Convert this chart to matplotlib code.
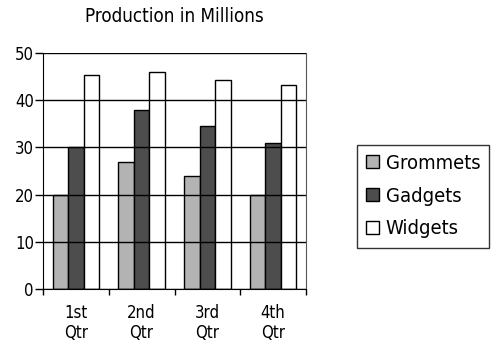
import matplotlib
matplotlib.use('Agg')
import matplotlib.pyplot as plt
import numpy as np
from matplotlib.patches import Patch

# narrow face if one is around, otherwise condensed DejaVu
plt.rcParams['font.family'] = ['Liberation Sans Narrow', 'DejaVu Sans']
plt.rcParams['font.stretch'] = 'condensed'

quarters = ['1st\nQtr', '2nd\nQtr', '3rd\nQtr', '4th\nQtr']
grommets = [20, 27, 24, 20]
gadgets = [30, 38, 34.5, 31]
widgets = [45.3, 46, 44.2, 43.2]
series = ['Grommets', 'Gadgets', 'Widgets']
colors = ['#b3b3b3', '#4d4d4d', '#ffffff']

fig = plt.figure(figsize=(4.94, 3.41), dpi=100)
ax = fig.add_axes([43/494, 1 - 289/341, 263/494, 236/341])

x = np.arange(len(quarters))
w = 0.236
for i, (vals, c) in enumerate(zip([grommets, gadgets, widgets], colors)):
    ax.bar(x + (i - 1) * w, vals, w, color=c, edgecolor='black', linewidth=1.0, zorder=1)

ax.set_xlim(-0.5, 3.5)
ax.set_ylim(0, 50)
ax.set_yticks(range(0, 51, 10))
ax.yaxis.grid(True, color='black', linewidth=1.0, zorder=3)
ax.set_axisbelow(False)

ax.set_xticks(x)
ax.set_xticklabels(quarters, fontsize=12, linespacing=1.1)
ax.set_xticks(np.arange(-0.5, 4, 1), minor=True)
ax.tick_params(axis='x', which='major', length=0, pad=11)
ax.tick_params(axis='x', which='minor', length=4, width=1, direction='out')
ax.tick_params(axis='y', length=6, width=1, labelsize=12, pad=0.5)

ax.spines['top'].set_visible(False)
ax.spines['right'].set_color('#555555')

fig.text(174.5/494, 1 - 16/341, 'Production in Millions', fontsize=13.5,
         ha='center', va='center')

handles = [Patch(facecolor=c, edgecolor='black', linewidth=1.0) for c in colors]
leg = fig.legend(handles, series, loc='upper left', bbox_to_anchor=(357/494, 1 - 145/341),
                 fontsize=14.5, frameon=True, fancybox=False, edgecolor='black',
                 handlelength=0.62, handleheight=0.62, handletextpad=0.35,
                 borderpad=0.45, labelspacing=0.68, borderaxespad=0)
leg.get_frame().set_linewidth(1.0)

fig.savefig('out.png', dpi=100)
